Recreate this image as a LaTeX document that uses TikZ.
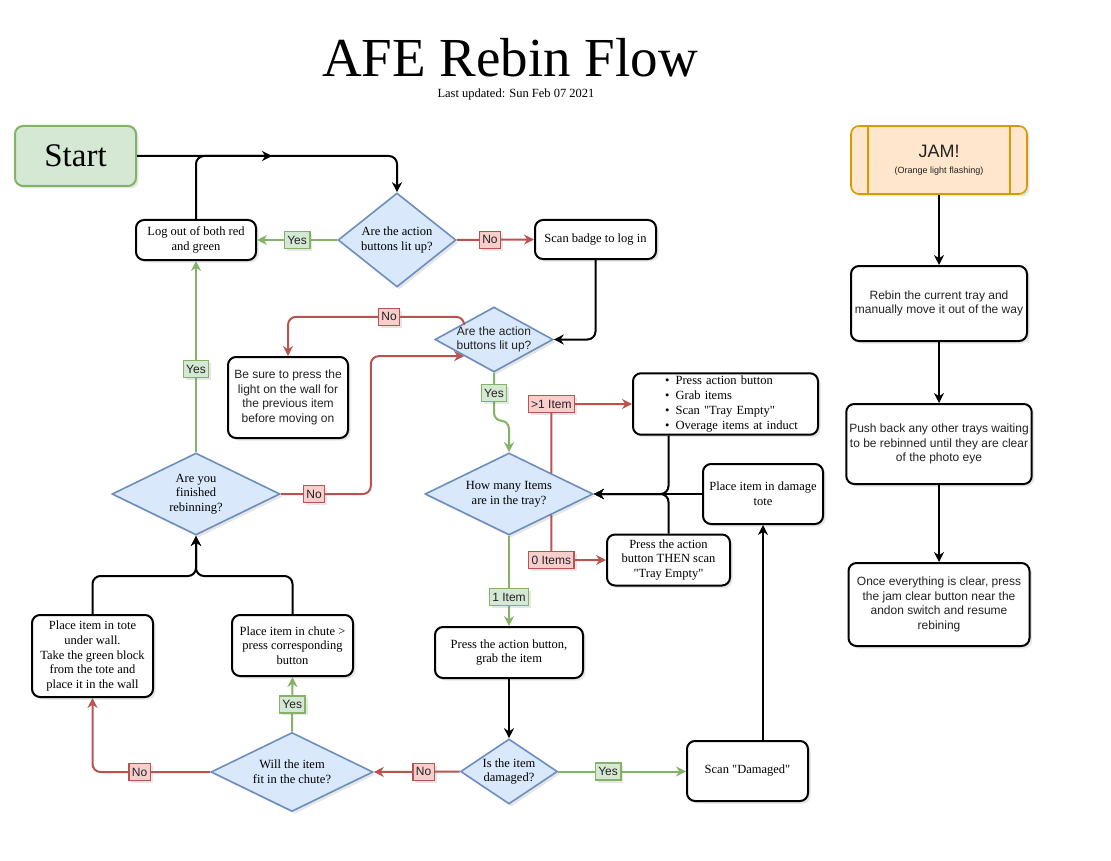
\documentclass[tikz,border=0pt]{standalone}
\usepackage{fontspec}
\setmainfont{Liberation Serif}
\setsansfont{Liberation Sans}
\usetikzlibrary{shapes,arrows.meta,positioning,shadows,calc}
\definecolor{GreenFill}{HTML}{D5E8D4}
\definecolor{GreenLine}{HTML}{82B366}
\definecolor{RedFill}{HTML}{F8CECC}
\definecolor{RedLine}{HTML}{B85450}
\definecolor{DecFill}{HTML}{DAE8FC}
\definecolor{DecLine}{HTML}{6C8EBF}
\definecolor{OrangeFill}{HTML}{FFE6CC}
\definecolor{OrangeLine}{HTML}{D79B00}
\definecolor{DarkText}{HTML}{222222}

\begin{document}
\begin{tikzpicture}[x=1pt,y=-1pt,
    softshadow/.style={drop shadow={shadow xshift=2.5pt, shadow yshift=-2.5pt, opacity=0.2}},
    procbox/.style={draw=black, line width=2pt, rounded corners=8pt, fill=white, align=center,
      inner sep=3pt, font=\fontsize{12.5}{14.7}\selectfont, softshadow},
    sansbox/.style={procbox, font=\sffamily\fontsize{12}{14.5}\selectfont, text=DarkText},
    decision/.style={diamond, draw=DecLine, fill=DecFill, line width=1.6pt, inner sep=0pt, softshadow},
    dtext/.style={align=center, font=\fontsize{12.5}{14.7}\selectfont},
    flow/.style={line width=2pt, rounded corners=8pt, -{Stealth[length=10pt,width=10pt]}},
    yesflow/.style={flow, draw=GreenLine},
    noflow/.style={flow, draw=RedLine},
    tag/.style={sharp corners, line width=1.4pt, font=\sffamily\fontsize{12}{13}\selectfont, text=DarkText,
      inner xsep=3pt, inner ysep=1pt, minimum height=17pt, softshadow},
    yeslabel/.style={tag, draw=GreenLine, fill=GreenFill},
    nolabel/.style={tag, draw=RedLine, fill=RedFill}
  ]
  \useasboundingbox (0,0) rectangle (1111,861);

  % Title
  \node[font=\fontsize{55}{60}\selectfont] (title) at (510,58) {AFE Rebin Flow};
  \node[font=\fontsize{12.5}{14}\selectfont] (updated) at (516,94) {Last updated: Sun Feb 07 2021};

  % Main flow boxes
  \node[procbox, draw=GreenLine, fill=GreenFill, font=\fontsize{33}{36}\selectfont,
    minimum width=121pt, minimum height=60pt] (start) at (75.5,156) {Start};
  \node[procbox, minimum width=120pt, minimum height=40pt] (logout) at (196,240) {Log out of both red\\and green};
  \node[procbox, minimum width=121pt, minimum height=39pt] (badge) at (595.5,239.5) {Scan badge to log in};
  \node[sansbox, minimum width=120pt, minimum height=81pt] (besure) at (288,397.5)
    {Be sure to press the\\light on the wall for\\the previous item\\before moving on};
  \node[procbox, minimum width=185pt, minimum height=60pt, text width=165pt, inner xsep=10pt, align=left] (bullets) at (725.5,404)
    {\hspace*{22pt}\textbullet\enspace Press action button\\\hspace*{22pt}\textbullet\enspace Grab items\\
     \hspace*{22pt}\textbullet\enspace Scan \textquotedbl Tray Empty\textquotedbl\\\hspace*{22pt}\textbullet\enspace Overage items at induct};
  \node[procbox, minimum width=123pt, minimum height=51pt] (then) at (668.5,560)
    {Press the action\\button THEN scan\\\textquotedbl Tray Empty\textquotedbl};
  \node[procbox, minimum width=120pt, minimum height=60pt] (dtote) at (763,494) {Place item in damage\\tote};
  \node[procbox, minimum width=148pt, minimum height=51pt] (grab) at (509,652.5) {Press the action button,\\grab the item};
  \node[procbox, minimum width=121pt, minimum height=60pt] (scan) at (747.5,771) {Scan \textquotedbl Damaged\textquotedbl};
  \node[procbox, minimum width=121pt, minimum height=82pt] (tote) at (92.5,656)
    {Place item in tote\\under wall.\\Take the green block\\from the tote and\\place it in the wall};
  \node[procbox, minimum width=121pt, minimum height=61pt] (chute) at (292.5,645.5)
    {Place item in chute >\\press corresponding\\button};

  % Decisions
  \node[decision, minimum width=118pt, minimum height=94pt,
    label={[dtext]center:Are the action\\buttons lit up?}] (d1) at (397,240) {};
  \node[decision, minimum width=118pt, minimum height=65pt,
    label={[dtext, font=\sffamily\fontsize{12}{14.5}\selectfont, text=DarkText]center:Are the action\\buttons lit up?}] (d2) at (494,339.5) {};
  \node[decision, minimum width=168pt, minimum height=82pt,
    label={[dtext]center:Are you\\finished\\rebinning?}] (d3) at (196,494) {};
  \node[decision, minimum width=168pt, minimum height=82pt,
    label={[dtext]center:How many Items\\are in the tray?}] (d4) at (509,494) {};
  \node[decision, minimum width=162pt, minimum height=79pt,
    label={[dtext]center:Will the item\\fit in the chute?}] (d5) at (292,772) {};
  \node[decision, minimum width=97pt, minimum height=65pt,
    label={[dtext]center:Is the item\\damaged?}] (d6) at (509,771.5) {};

  % Jam column
  \node[sansbox, draw=OrangeLine, fill=OrangeFill, line width=1.6pt, minimum width=176pt, minimum height=68pt] (jam) at (939,160)
    {{\fontsize{18}{20}\selectfont JAM!}\\[1pt]{\fontsize{9}{10}\selectfont (Orange light flashing)}};
  \draw[OrangeLine, line width=1.6pt] ([xshift=18pt]jam.north west) -- ([xshift=18pt]jam.south west);
  \draw[OrangeLine, line width=1.6pt] ([xshift=-18pt]jam.north east) -- ([xshift=-18pt]jam.south east);
  \node[sansbox, minimum width=176pt, minimum height=75pt] (rebin) at (939,303.5)
    {Rebin the current tray and\\manually move it out of the way};
  \node[sansbox, minimum width=183pt, minimum height=80pt] (push) at (939,444)
    {Push back any other trays waiting\\to be rebinned until they are clear\\of the photo eye};
  \node[sansbox, minimum width=181pt, minimum height=83pt] (once) at (939,604.5)
    {Once everything is clear, press\\the jam clear button near the\\andon switch and resume\\rebining};

  % Helper points
  \coordinate (joinA) at (272,156);
  \coordinate (d2nw) at ($(d2.west)!0.5!(d2.north)$);
  \coordinate (d2sw) at ($(d2.west)!0.5!(d2.south)$);
  \coordinate (d4ne) at ($(d4.north)!0.5!(d4.east)$);
  \coordinate (d4se) at ($(d4.south)!0.5!(d4.east)$);
  \coordinate (mrg) at (196,576);

  % Connectors
  \draw[flow] (start.east) -| (d1.north);
  \draw[flow] (logout.north) |- (joinA);
  \draw[yesflow] (d1.west) -- node[yeslabel]{Yes} (logout.east);
  \draw[noflow] (d1.east) -- node[nolabel, pos=0.43]{No} (badge.west);
  \draw[flow] (badge.south) |- (d2.east);
  \draw[noflow] (d2nw) -- ++(0,-6) -| node[nolabel, pos=0.213]{No} (besure.north);
  \draw[yesflow] (d2.south) -- node[yeslabel, pos=0.42]{Yes} ++(0,48) -| (d4.north);
  \draw[yesflow] (d3.north) -- node[yeslabel, pos=0.435]{Yes} (logout.south);
  \draw[noflow] (d3.east) -- node[nolabel, pos=0.37]{No} ++(90,0) |- (d2sw);
  \draw[noflow] (d4ne) |- node[nolabel, pos=0.5]{>1 Item} (bullets.west);
  \draw[noflow] (d4se) |- node[nolabel, pos=0.5]{0 Items} (then.west);
  \draw[flow] (then.north |- bullets.south) |- (d4.east);
  \draw[flow] (then.north) |- (d4.east);
  \draw[flow] (dtote.west) -- (d4.east);
  \draw[yesflow] (d4.south) -- node[yeslabel, pos=0.68]{1 Item} (grab.north);
  \draw[flow] (grab.south) -- (d6.north);
  \draw[yesflow] (d6.east) -- node[yeslabel, pos=0.39]{Yes} (d6.east -| scan.west);
  \draw[flow] (dtote.south |- scan.north) -- (dtote.south);
  \draw[noflow] (d6.west) -- node[nolabel, pos=0.42]{No} (d5.east);
  \draw[yesflow] (d5.north) -- node[yeslabel]{Yes} (chute.south);
  \draw[noflow] (d5.west) -| node[nolabel, pos=0.3]{No} (tote.south);
  \draw[flow] (tote.north) |- (mrg) -- (d3.south);
  \draw[flow] (chute.north) |- (mrg) -- (d3.south);
  \draw[flow] (jam.south) -- (rebin.north);
  \draw[flow] (rebin.south) -- (push.north);
  \draw[flow] (push.south) -- (once.north);
\end{tikzpicture}
\end{document}
